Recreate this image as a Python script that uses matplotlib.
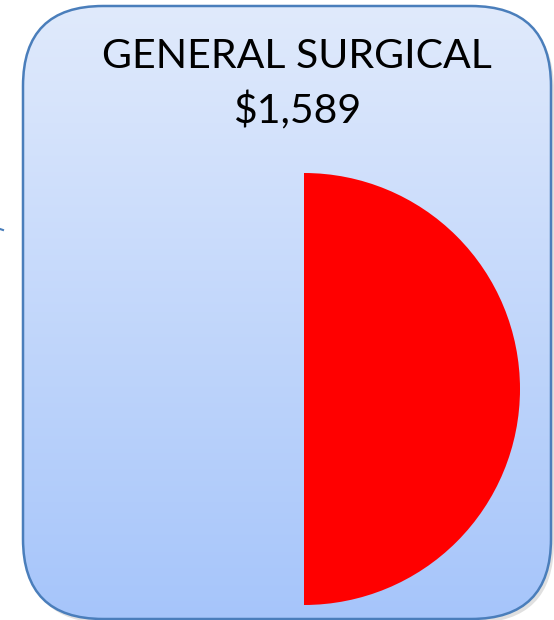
import numpy as np
import matplotlib.pyplot as plt
from matplotlib.patches import FancyBboxPatch

# Data
categories = ["General Surgical", "Other"]
shares = [50, 50]
title = "GENERAL SURGICAL"
amount = "$1,589"

W, H = 554, 620
fig = plt.figure(figsize=(W / 100, H / 100), dpi=100)
fig.patch.set_facecolor("white")

bg = fig.add_axes([0, 0, 1, 1])
bg.set_xlim(0, W)
bg.set_ylim(H, 0)
bg.axis("off")

x0, y0, x1, y1 = 23, 6, 551, 619
r = 80
# shadow
sh = FancyBboxPatch((x0 + 3, y0 + 4), x1 - x0, y1 - y0,
                    boxstyle=f"round,pad=0,rounding_size={r}",
                    facecolor="#000000", edgecolor="none", alpha=0.12, zorder=1)
bg.add_patch(sh)
box = FancyBboxPatch((x0, y0), x1 - x0, y1 - y0,
                     boxstyle=f"round,pad=0,rounding_size={r}",
                     facecolor="none", edgecolor="#4a7ebb", linewidth=1.8, zorder=3)
bg.add_patch(box)
top = np.array([224, 234, 252]) / 255
bot = np.array([166, 197, 250]) / 255
t = np.linspace(0, 1, 256)[:, None]
grad = (top[None, :] * (1 - t) + bot[None, :] * t)[:, None, :]
im = bg.imshow(grad, extent=[x0, x1, y1, y0], aspect="auto", zorder=2, interpolation="bilinear")
im.set_clip_path(box)

# small mark at left
bg.plot([0, 3], [229, 230], color="#4a7ebb", lw=1.5, zorder=3)

fig.text(297 / W, 1 - 56 / H, title, ha="center", va="center",
         fontsize=29.5, family="Lato", color="black")
fig.text(297 / W, 1 - 111 / H, amount, ha="center", va="center",
         fontsize=29.5, family="Lato", color="black")

cx, cy, rad = 304, 389, 216
ax = fig.add_axes([(cx - rad) / W, 1 - (cy + rad) / H, 2 * rad / W, 2 * rad / H])
ax.pie(shares, colors=["#ff0000", "none"], startangle=90, counterclock=False,
       radius=1, wedgeprops=dict(linewidth=0, edgecolor="none"))
ax.set_xlim(-1, 1)
ax.set_ylim(-1, 1)
ax.axis("off")

fig.savefig("out.png", dpi=100)
